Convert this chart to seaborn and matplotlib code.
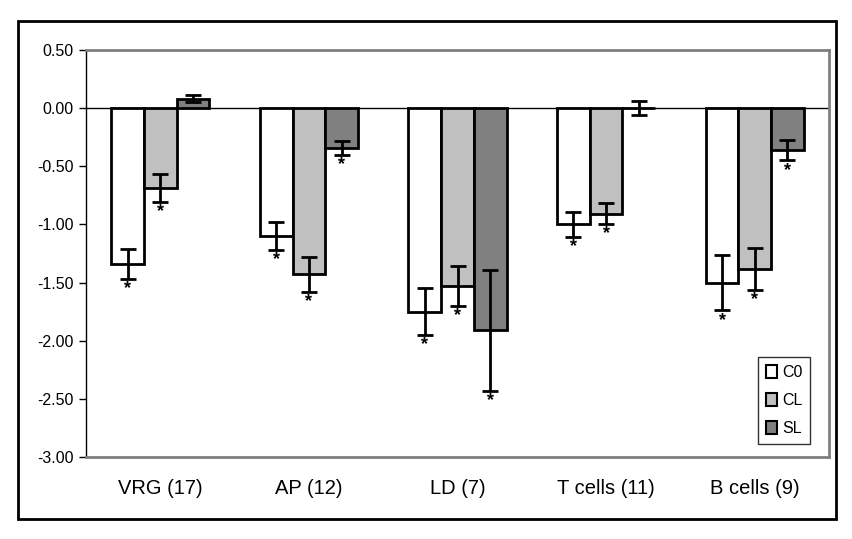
import matplotlib
matplotlib.use("Agg")
import matplotlib.pyplot as plt
import matplotlib.patches as mpatches
import seaborn as sns
import pandas as pd

categories = ["VRG (17)", "AP (12)", "LD (7)", "T cells (11)", "B cells (9)"]
groups = ["C0", "CL", "SL"]
c0_vals = [-1.34, -1.10, -1.75, -1.00, -1.50]
cl_vals = [-0.69, -1.43, -1.53, -0.91, -1.38]
sl_vals = [0.08, -0.34, -1.91, 0.00, -0.36]
c0_err = [0.13, 0.12, 0.20, 0.11, 0.24]
cl_err = [0.12, 0.15, 0.17, 0.09, 0.18]
sl_err = [0.03, 0.06, 0.52, 0.06, 0.09]
c0_sig = [True, True, True, True, True]
cl_sig = [True, True, True, True, True]
sl_sig = [False, True, True, False, True]

colors = ["#ffffff", "#c0c0c0", "#808080"]

rows = []
for g, vals, errs, sig in [("C0", c0_vals, c0_err, c0_sig),
                           ("CL", cl_vals, cl_err, cl_sig),
                           ("SL", sl_vals, sl_err, sl_sig)]:
    for c, v, e, s in zip(categories, vals, errs, sig):
        rows.append({"region": c, "group": g, "value": v, "err": e, "sig": s})
df = pd.DataFrame(rows)

plt.rcParams['font.family'] = ['Liberation Sans', 'DejaVu Sans']

fig = plt.figure(figsize=(8.52, 5.39), dpi=100)
ax = fig.add_axes([86 / 852, 82 / 539, 743 / 852, 407 / 539])

sns.barplot(data=df, x="region", y="value", hue="group", order=categories,
            hue_order=groups, palette=colors, edgecolor="black", linewidth=2,
            width=0.66, errorbar=None, ax=ax, zorder=3)

# error bars and asterisks, placed on the drawn bars
for i, g in enumerate(groups):
    cont = ax.containers[i]
    sub = df[df["group"] == g].set_index("region").loc[categories]
    for bar, (_, r) in zip(cont, sub.iterrows()):
        x = bar.get_x() + bar.get_width() / 2
        ax.errorbar(x, r["value"], yerr=r["err"], fmt="none", ecolor="black",
                    elinewidth=2, capsize=6, capthick=2, zorder=4)
        if r["sig"]:
            ax.text(x, r["value"] - r["err"] - 0.01, "*", ha="center", va="top",
                    fontsize=13, fontweight="bold", color="black", zorder=5)

ax.axhline(0, color="black", linewidth=1, zorder=2)
ax.set_ylim(-3.0, 0.5)
ax.set_xlim(-0.5, len(categories) - 0.5)
ticks = [0.5, 0, -0.5, -1, -1.5, -2, -2.5, -3]
ax.set_yticks(ticks)
ax.set_yticklabels([f"{t:.2f}" for t in ticks], fontsize=11.5)
ax.tick_params(axis="y", direction="out", length=5, width=1, pad=4)
ax.tick_params(axis="x", length=0, pad=16, labelsize=14.5)
ax.set_xlabel("")
ax.set_ylabel("")
ax.set_facecolor("white")
for s in ["top", "right", "bottom"]:
    ax.spines[s].set_color("#808080")
    ax.spines[s].set_linewidth(2)
ax.spines["left"].set_color("black")
ax.spines["left"].set_linewidth(1)

handles = [mpatches.Patch(facecolor=c, edgecolor="black", linewidth=1.5, label=g)
           for g, c in zip(groups, colors)]
ax.legend(handles=handles, loc="lower right", bbox_to_anchor=(0.975, 0.032),
          borderaxespad=0, fontsize=11.5, frameon=True, fancybox=False,
          edgecolor="black", handlelength=0.7, handleheight=0.9,
          handletextpad=0.3, labelspacing=0.8, borderpad=0.5)
ax.get_legend().get_frame().set_linewidth(1)

fig.patches.append(mpatches.Rectangle((18 / 852, 20 / 539), 818 / 852, 498 / 539,
                                      transform=fig.transFigure, fill=False,
                                      edgecolor="black", linewidth=2))

fig.savefig("out.png", dpi=100, facecolor="white")
